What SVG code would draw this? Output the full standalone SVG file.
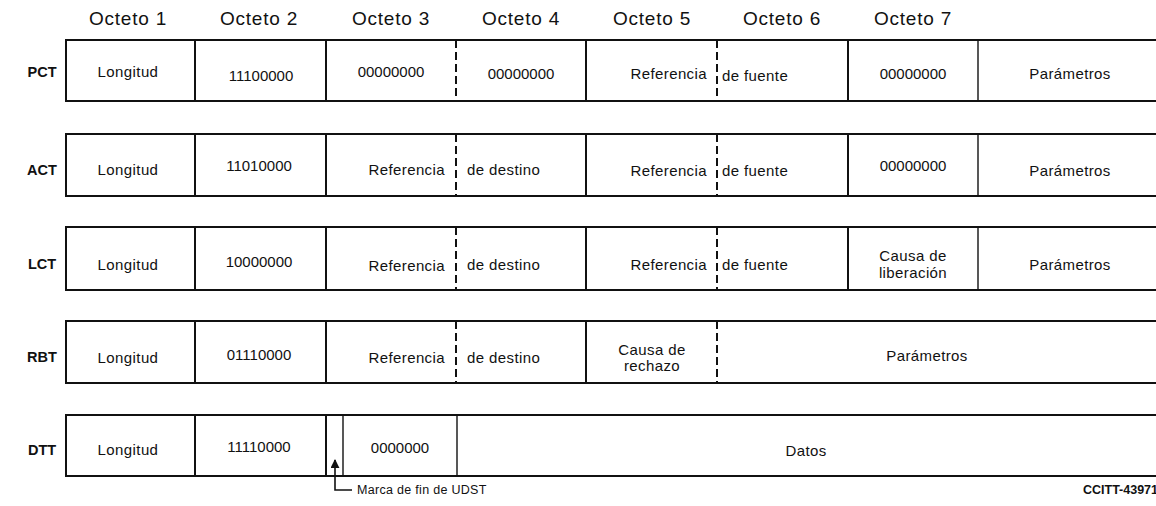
<svg xmlns="http://www.w3.org/2000/svg" width="1156" height="506" viewBox="0 0 1156 506">
<style>
.hdr{font-family:"Liberation Sans",Arial,sans-serif;font-size:19px;letter-spacing:0.8px;fill:#111;text-anchor:middle}
.lbl{font-family:"Liberation Sans",Arial,sans-serif;font-size:14.5px;font-weight:bold;fill:#111;text-anchor:middle}
.t,.te,.ts{font-family:"Liberation Sans",Arial,sans-serif;font-size:15px;letter-spacing:0.4px;fill:#111}
.t{text-anchor:middle}
.te{text-anchor:end}
.ts{text-anchor:start}
.n{letter-spacing:0}
.box{fill:none;stroke:#111;stroke-width:2}
.div{stroke:#111;stroke-width:2}
.thin{stroke:#111;stroke-width:1.4}
.dash{stroke:#111;stroke-width:2;stroke-dasharray:8 4}
</style>
<defs>
<marker id="ah" viewBox="0 0 10 10" refX="9" refY="5" markerWidth="9" markerHeight="9" orient="auto" markerUnits="userSpaceOnUse">
<path d="M0,0 L10,5 L0,10 z" fill="#111"/>
</marker>
</defs>

<g id="headers">
<text class="hdr" x="128" y="25">Octeto 1</text>
<text class="hdr" x="259" y="25">Octeto 2</text>
<text class="hdr" x="391" y="25">Octeto 3</text>
<text class="hdr" x="521" y="25">Octeto 4</text>
<text class="hdr" x="652" y="25">Octeto 5</text>
<text class="hdr" x="782" y="25">Octeto 6</text>
<text class="hdr" x="913" y="25">Octeto 7</text>
</g>

<g id="PCT">
<text class="lbl" x="42" y="77">PCT</text>
<path class="box" d="M1156,40 H66 V101 H1156"/>
<line class="div" x1="195" y1="40" x2="195" y2="101"/>
<line class="div" x1="326" y1="40" x2="326" y2="101"/>
<line class="dash" x1="456" y1="40" x2="456" y2="101"/>
<line class="div" x1="586" y1="40" x2="586" y2="101"/>
<line class="dash" x1="717" y1="40" x2="717" y2="101"/>
<line class="div" x1="848" y1="40" x2="848" y2="101"/>
<line class="thin" x1="978" y1="40" x2="978" y2="101"/>
<text class="t" x="128" y="77">Longitud</text>
<text class="t n" x="261" y="81">11100000</text>
<text class="t n" x="391" y="77">00000000</text>
<text class="t n" x="521" y="79">00000000</text>
<text class="te" x="707" y="79">Referencia</text>
<text class="ts" x="722" y="81">de fuente</text>
<text class="t n" x="913" y="79">00000000</text>
<text class="t" x="1070" y="79">Parámetros</text>
</g>

<g id="ACT">
<text class="lbl" x="42" y="175">ACT</text>
<path class="box" d="M1156,134 H66 V196 H1156"/>
<line class="div" x1="195" y1="134" x2="195" y2="196"/>
<line class="div" x1="326" y1="134" x2="326" y2="196"/>
<line class="dash" x1="456" y1="134" x2="456" y2="196"/>
<line class="div" x1="586" y1="134" x2="586" y2="196"/>
<line class="dash" x1="717" y1="134" x2="717" y2="196"/>
<line class="div" x1="848" y1="134" x2="848" y2="196"/>
<line class="thin" x1="978" y1="134" x2="978" y2="196"/>
<text class="t" x="128" y="175">Longitud</text>
<text class="t n" x="259" y="171">11010000</text>
<text class="te" x="445" y="175">Referencia</text>
<text class="ts" x="467" y="175">de destino</text>
<text class="te" x="707" y="176">Referencia</text>
<text class="ts" x="722" y="176">de fuente</text>
<text class="t n" x="913" y="171">00000000</text>
<text class="t" x="1070" y="176">Parámetros</text>
</g>

<g id="LCT">
<text class="lbl" x="42" y="269">LCT</text>
<path class="box" d="M1156,227 H66 V290 H1156"/>
<line class="div" x1="195" y1="227" x2="195" y2="290"/>
<line class="div" x1="326" y1="227" x2="326" y2="290"/>
<line class="dash" x1="456" y1="227" x2="456" y2="290"/>
<line class="div" x1="586" y1="227" x2="586" y2="290"/>
<line class="dash" x1="717" y1="227" x2="717" y2="290"/>
<line class="div" x1="848" y1="227" x2="848" y2="290"/>
<line class="thin" x1="978" y1="227" x2="978" y2="290"/>
<text class="t" x="128" y="270">Longitud</text>
<text class="t n" x="259" y="267">10000000</text>
<text class="te" x="445" y="271">Referencia</text>
<text class="ts" x="467" y="270">de destino</text>
<text class="te" x="707" y="270">Referencia</text>
<text class="ts" x="722" y="270">de fuente</text>
<text class="t" x="913" y="261">Causa de</text>
<text class="t" x="913" y="278">liberación</text>
<text class="t" x="1070" y="270">Parámetros</text>
</g>

<g id="RBT">
<text class="lbl" x="42" y="362">RBT</text>
<path class="box" d="M1156,321 H66 V383 H1156"/>
<line class="div" x1="195" y1="321" x2="195" y2="383"/>
<line class="div" x1="326" y1="321" x2="326" y2="383"/>
<line class="dash" x1="456" y1="321" x2="456" y2="383"/>
<line class="div" x1="586" y1="321" x2="586" y2="383"/>
<line class="dash" x1="717" y1="321" x2="717" y2="383"/>
<text class="t" x="128" y="363">Longitud</text>
<text class="t n" x="259" y="360">01110000</text>
<text class="te" x="445" y="363">Referencia</text>
<text class="ts" x="467" y="363">de destino</text>
<text class="t" x="652" y="355">Causa de</text>
<text class="t" x="652" y="371">rechazo</text>
<text class="t" x="927" y="361">Parámetros</text>
</g>

<g id="DTT">
<text class="lbl" x="42" y="455">DTT</text>
<path class="box" d="M1156,415 H66 V476 H1156"/>
<line class="div" x1="195" y1="415" x2="195" y2="476"/>
<line class="div" x1="326" y1="415" x2="326" y2="476"/>
<line class="thin" x1="343" y1="415" x2="343" y2="476"/>
<line class="thin" x1="457" y1="415" x2="457" y2="476"/>
<text class="t" x="128" y="455">Longitud</text>
<text class="t n" x="259" y="452">11110000</text>
<text class="t n" x="400" y="453">0000000</text>
<text class="t" x="806" y="456">Datos</text>
</g>

<g id="connectors">
<path d="M352,490 H335 V460" fill="none" stroke="#111" stroke-width="1.6" marker-end="url(#ah)"/>
</g>

<g id="notes">
<text class="ts" x="357" y="494" style="font-size:12.5px;letter-spacing:0.3px">Marca de fin de UDST</text>
<text class="te" x="1158" y="494" style="font-size:12.5px;font-weight:bold;letter-spacing:0">CCITT-43971</text>
</g>
</svg>
